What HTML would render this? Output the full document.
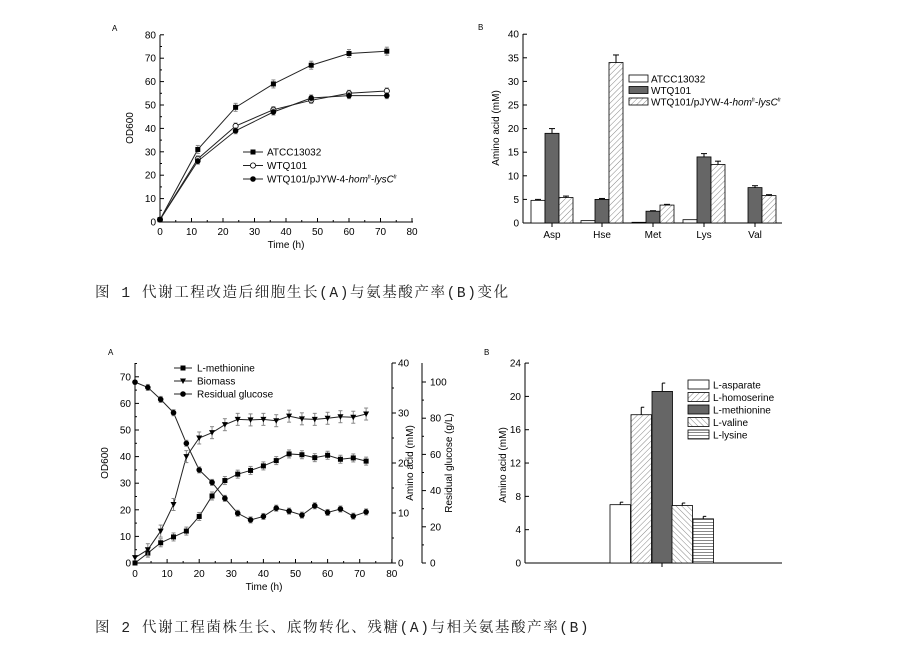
<!DOCTYPE html>
<html><head><meta charset="utf-8"><style>
body{margin:0;background:#fff;width:904px;height:645px;overflow:hidden}
svg{position:absolute;left:0;top:0;font-family:"Liberation Sans",sans-serif}
.cap{position:absolute;left:95px;font-family:"Liberation Mono","Noto Serif CJK SC",serif;font-size:14.5px;color:#222;letter-spacing:1.6px;white-space:nowrap}
</style></head><body>
<svg id="s" width="904" height="645" viewBox="0 0 904 645">
<defs>
<pattern id="h1" width="4" height="4" patternUnits="userSpaceOnUse" patternTransform="rotate(45)"><rect width="4" height="4" fill="#fff"/><line x1="0" y1="0" x2="0" y2="4" stroke="#888" stroke-width="1"/></pattern>
<pattern id="h2" width="4" height="4" patternUnits="userSpaceOnUse" patternTransform="rotate(-45)"><rect width="4" height="4" fill="#fff"/><line x1="0" y1="0" x2="0" y2="4" stroke="#888" stroke-width="1"/></pattern>
<pattern id="h3" width="4" height="3" patternUnits="userSpaceOnUse"><rect width="4" height="3" fill="#fff"/><line x1="0" y1="0.5" x2="4" y2="0.5" stroke="#888" stroke-width="1"/></pattern>
</defs>
<g id="g" fill="none" stroke="#000" stroke-width="1" font-size="10"></g>
</svg>
<div class="cap" style="top:281px">图 1 代谢工程改造后细胞生长(A)与氨基酸产率(B)变化</div>
<div class="cap" style="top:616px">图 2 代谢工程菌株生长、底物转化、残糖(A)与相关氨基酸产率(B)</div>
<script>
var G=document.getElementById('g'),o='';
function L(a,b,c,d,s){o+='<line x1="'+a+'" y1="'+b+'" x2="'+c+'" y2="'+d+'"'+(s?' stroke="'+s+'"':'')+'/>';}
function T(x,y,t,a,extra){o+='<text x="'+x+'" y="'+y+'" fill="#000" stroke="none" text-anchor="'+(a||'middle')+'" '+(extra||'')+'>'+t+'</text>';}
function R(x,y,w,h,f){o+='<rect x="'+x+'" y="'+y+'" width="'+w+'" height="'+h+'" fill="'+f+'" stroke="#000" stroke-width="0.8"/>';}
function mk(x,y,m){if(m=='s')o+='<rect x="'+(x-2.5)+'" y="'+(y-2.5)+'" width="5" height="5" fill="#000" stroke="none"/>';
 else if(m=='c')o+='<circle cx="'+x+'" cy="'+y+'" r="2.8" fill="#000" stroke="none"/>';
 else if(m=='o')o+='<circle cx="'+x+'" cy="'+y+'" r="2.6" fill="#fff" stroke="#000" stroke-width="0.8"/>';
 else if(m=='t')o+='<polygon points="'+(x-3)+','+(y-2.5)+' '+(x+3)+','+(y-2.5)+' '+x+','+(y+3)+'" fill="#000" stroke="none"/>';}
function series(px,py,d,m,err){var p='';d.forEach(function(v,i){p+=(i?'L':'M')+px(v[0])+','+py(v[1]);});o+='<path d="'+p+'" stroke="#222"/>';
 d.forEach(function(v){var x=px(v[0]),y=py(v[1]);if(err&&v[0]>0){L(x,y-err,x,y+err,'#888');L(x-2,y-err,x+2,y-err,'#888');L(x-2,y+err,x+2,y+err,'#888');}mk(x,y,m);});}
// Fig 1A
var ax=function(t){return 160+t*3.15},ay=function(v){return 222-v*2.34};
L(160,35,160,222);L(160,222,413,222);
for(var v=0;v<=80;v+=10){L(160,ay(v),164,ay(v));if(v<80)L(160,ay(v+5),162,ay(v+5));T(156,ay(v)+3.5,v,'end');}
for(var t=0;t<=80;t+=10){L(ax(t),222,ax(t),218);if(t<80)L(ax(t+5),222,ax(t+5),220);T(ax(t),235,t);}
T(286,248,'Time (h)');T(133,128,'OD600','middle','transform="rotate(-90 133 128)"');T(112,31,'A','start','font-size="8"');
series(ax,ay,[[0,1],[12,31],[24,49],[36,59],[48,67],[60,72],[72,73]],'s',4);
series(ax,ay,[[0,1],[12,27],[24,41],[36,48],[48,52],[60,55],[72,56]],'o',3);
series(ax,ay,[[0,1],[12,26],[24,39],[36,47],[48,53],[60,54],[72,54]],'c',3);
[['s','ATCC13032'],['o','WTQ101'],['c','WTQ101/pJYW-4-<tspan font-style="italic">hom</tspan><tspan font-size="5" dy="-4">fr</tspan><tspan dy="4">-</tspan><tspan font-style="italic">lysC</tspan><tspan font-size="5" dy="-4">fr</tspan>']].forEach(function(e,i){var y=152+i*13.5;L(243,y,263,y,'#222');mk(253,y,e[0]);T(267,y+3.5,e[1],'start');});
// Fig 1B
var by=function(v){return 223-v*4.72};
L(523,34,523,223);L(523,223,782,223);
for(var v=0;v<=40;v+=5){L(523,by(v),527,by(v));T(519,by(v)+3.5,v,'end');}
T(499,128,'Amino acid (mM)','middle','transform="rotate(-90 499 128)"');T(478,30,'B','start','font-size="8"');
var cats=['Asp','Hse','Met','Lys','Val'],cx=[552,602,653,704,755],vals=[[4.8,19,5.4],[0.5,5,34],[0.15,2.5,3.8],[0.7,14,12.4],[0,7.5,5.8]],errs=[[0.2,1,0.3],[0,0.2,1.6],[0,0.1,0.15],[0,0.7,0.7],[0,0.4,0.2]],fl=['#fff','#666','url(#h1)'];
cats.forEach(function(c,i){L(cx[i],223,cx[i],227);T(cx[i],238,c);for(var j=0;j<3;j++){var x=cx[i]-21+j*14,v=vals[i][j];if(v<=0)continue;var e=errs[i][j];if(e){L(x+7,by(v),x+7,by(v+e));L(x+4,by(v+e),x+10,by(v+e));}R(x,by(v),14,v*4.72,fl[j]);}});
['ATCC13032','WTQ101','WTQ101/pJYW-4-<tspan font-style="italic">hom</tspan><tspan font-size="5" dy="-4">fr</tspan><tspan dy="4">-</tspan><tspan font-style="italic">lysC</tspan><tspan font-size="5" dy="-4">fr</tspan>'].forEach(function(t,i){var y=75+i*11.5;R(629,y,19,7,fl[i]);T(651,y+7.5,t,'start');});
// Fig 2A
var cx2=function(t){return 135+t*3.21},oy=function(v){return 563-v*2.66};
L(135,363,135,563);L(135,563,392,563);L(392,363,392,563);L(422,363,422,563);
for(var v=0;v<=70;v+=10){L(135,oy(v),139,oy(v));L(135,oy(v+5),137,oy(v+5));T(131,oy(v)+3.5,v,'end');}
for(var t=0;t<=80;t+=10){L(cx2(t),563,cx2(t),559);if(t<80)L(cx2(t+5),563,cx2(t+5),561);T(cx2(t),577,t);}
for(var v=0;v<=40;v+=10){var y=563-v*5;L(392,y,396,y);if(v<40)L(392,y-25,394,y-25);T(398,y+3.5,v,'start');}
for(var v=0;v<=100;v+=20){var y=563-v*1.81;L(422,y,426,y);if(v<100)L(422,y-18.1,424,y-18.1);T(430,y+3.5,v,'start');}
T(264,590,'Time (h)');T(108,463,'OD600','middle','transform="rotate(-90 108 463)"');
T(413,463,'Amino acid (mM)','middle','transform="rotate(-90 413 463)"');T(452,463,'Residual glucose (g/L)','middle','transform="rotate(-90 452 463)"');
T(108,355,'A','start','font-size="8"');
var ts=[0,4,8,12,16,20,24,28,32,36,40,44,48,52,56,60,64,68,72];
function z(a){return ts.map(function(t,i){return [t,a[i]];});}
series(cx2,oy,z([0,3.7,7.6,9.8,12,17.5,25.2,31,33.4,34.8,36.5,38.5,41,40.7,39.6,40.5,39,39.5,38.3]),'s',4);
series(cx2,oy,z([2,5,12,22,40,47,49,52,54,53.8,54,53.5,55.2,54.2,54,54.4,55,54.8,56]),'t',6);
series(cx2,oy,z([68,66,61.5,56.5,45,35,30.3,24.3,18.7,16.2,17.5,20.6,19.5,18,21.5,19,20.3,17.6,19.2]),'c',3);
[['s','L-methionine'],['t','Biomass'],['c','Residual glucose']].forEach(function(e,i){var y=368+i*13;L(174,y,192,y,'#222');mk(183,y,e[0]);T(197,y+3.5,e[1],'start');});
// Fig 2B
var cy=function(v){return 563-v*8.33};
L(525,363,525,563);L(525,563,782,563);L(662,563,662,567);
for(var v=0;v<=24;v+=4){L(525,cy(v),529,cy(v));T(521,cy(v)+3.5,v,'end');}
T(506,465,'Amino acid (mM)','middle','transform="rotate(-90 506 465)"');T(484,355,'B','start','font-size="8"');
var bv=[7,17.8,20.6,6.9,5.3],be=[0.3,0.9,1,0.3,0.3],bf=['#fff','url(#h1)','#666','url(#h2)','url(#h3)'],bx=[610,631,652,672,693];
bv.forEach(function(v,i){var w=20.5,x=bx[i];L(x+w/2,cy(v),x+w/2,cy(v+be[i]));L(x+w/2,cy(v+be[i]),x+w/2+3,cy(v+be[i]));R(x,cy(v),w,v*8.33,bf[i]);});
['L-asparate','L-homoserine','L-methionine','L-valine','L-lysine'].forEach(function(t,i){var y=380+i*12.5;R(688,y,21,9,bf[i]);T(713,y+8.5,t,'start');});
G.innerHTML=o;
</script>
</body></html>
